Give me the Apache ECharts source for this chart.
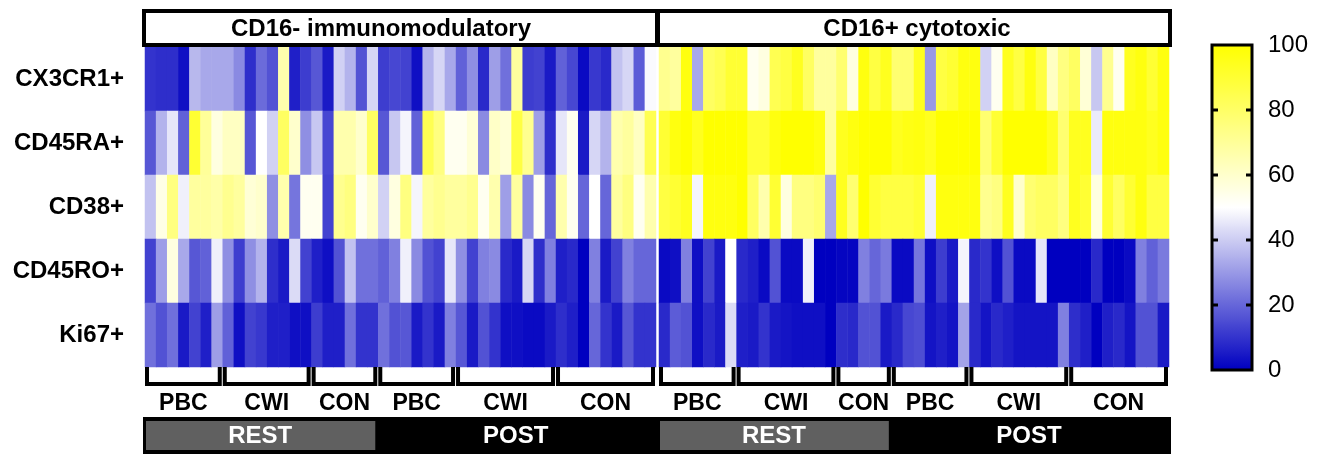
<!DOCTYPE html>
<html>
<head>
<meta charset="utf-8">
<script src="https://cdn.jsdelivr.net/npm/echarts@6/dist/echarts.min.js"></script>
<style>
  html, body { margin: 0; padding: 0; background: #fff; }
  #main { width: 1320px; height: 454px; }
</style>
</head>
<body>
<div id="main"></div>
<script>
// row markers (top to bottom)
var markers = ['CX3CR1+', 'CD45RA+', 'CD38+', 'CD45RO+', 'Ki67+'];

// % positive, one value per subject column (46 columns per panel)
var negCX3CR1 = [10,9,9,3,36,33,33,33,27,9, 21,16,66,6,12,17,5,41,35,16, 42,12,14,13,3,35,42,33,19,28, 8,31,22,69,12,13,5,19,14,2, 11,8,38,42,18,49];
var negCD45RA = [17,35,45,19,90,70,56,62,62,17, 50,41,81,60,28,39,14,66,66,60, 81,17,39,48,19,84,75,53,53,58, 27,61,58,87,72,31,9,45,53,5, 42,35,66,69,62,84];
var negCD38   = [38,55,75,47,69,69,67,72,69,58, 60,28,66,23,53,53,13,72,75,53, 60,41,56,75,48,69,72,69,69,72, 53,66,31,69,27,53,20,66,53,20, 50,20,69,75,53,66];
var negCD45RO = [13,31,56,33,17,19,47,28,12,28, 35,9,5,43,13,6,3,16,38,22, 22,19,25,47,27,16,13,45,28,13, 25,27,8,5,42,9,25,6,8,0, 25,5,13,25,20,20];
var negKi67   = [22,16,22,5,13,6,31,19,3,13, 11,6,6,3,3,12,6,6,22,10, 10,22,16,17,5,10,5,25,17,5, 16,10,3,3,2,2,5,9,6,0, 20,10,5,17,10,10];

var posCX3CR1 = [72,69,97,33,81,84,90,90,53,56, 84,87,94,81,69,69,78,56,97,87, 94,78,78,94,30,87,90,97,97,41, 53,94,87,97,87,62,75,81,58,39, 72,53,94,97,90,97];
var posCD45RA = [90,97,100,94,100,100,100,100,90,90, 97,100,100,100,97,69,94,97,100,100, 100,94,96,97,94,100,100,100,100,78, 90,100,100,100,100,94,78,94,94,46, 97,97,97,97,94,97];
var posCD38   = [87,90,94,48,97,97,97,100,81,66, 90,56,75,75,78,33,94,78,100,90, 87,87,87,90,47,97,97,97,97,72, 75,94,60,78,81,81,75,94,90,56, 90,81,90,97,87,87];
var posCD45RO = [2,3,25,3,13,5,50,8,6,2, 16,2,2,47,0,0,1,1,25,20, 24,2,2,23,3,12,5,48,8,10, 3,16,2,2,45,0,0,0,0,8, 0,0,2,25,19,24];
var posKi67   = [8,18,16,3,8,5,43,6,5,10, 5,4,3,3,3,0,9,8,16,16, 5,8,14,15,4,6,4,32,8,4, 8,6,4,4,4,4,25,9,6,0, 6,8,4,16,16,5];

// column groups [label, firstCol, lastCol]
var negGroups = [['PBC',0,6],['CWI',7,14],['CON',15,20],['PBC',21,27],['CWI',28,36],['CON',37,45]];
var posGroups = [['PBC',0,6],['CWI',7,15],['CON',16,20],['PBC',21,27],['CWI',28,36],['CON',37,45]];
var restEndCol = 20;

var panelTitles = ['CD16- immunomodulatory', 'CD16+ cytotoxic'];
var scaleTicks = [0, 20, 40, 60, 80, 100];

var FONT = '"Liberation Sans", Arial, sans-serif';

function toCells(rows) {
    var out = [];
    for (var r = 0; r < rows.length; r++) {
        for (var c = 0; c < rows[r].length; c++) {
            out.push([c, r, rows[r][c]]);
        }
    }
    return out;
}

var negData = toCells([negCX3CR1, negCD45RA, negCD38, negCD45RO, negKi67]);
var posData = toCells([posCX3CR1, posCD45RA, posCD38, posCD45RO, posKi67]);

var cols = [];
for (var i = 0; i < negCX3CR1.length; i++) cols.push(i);

var myChart = echarts.init(document.getElementById('main'));

var option = {
    animation: false,
    grid: [
        { left: 145, top: 47, width: 511, height: 320 },
        { left: 659, top: 47, width: 510, height: 320 },
        { left: 1212, top: 45, width: 40, height: 325 }
    ],
    xAxis: [
        { type: 'category', gridIndex: 0, data: cols, show: false },
        { type: 'category', gridIndex: 1, data: cols, show: false },
        { type: 'value', gridIndex: 2, show: false }
    ],
    yAxis: [
        {
            type: 'category', gridIndex: 0, data: markers, inverse: true,
            axisLine: { show: false },
            axisTick: { alignWithLabel: true, length: 9, lineStyle: { color: '#000', width: 3 } },
            axisLabel: { color: '#000', fontSize: 24, fontWeight: 'bold', fontFamily: FONT, margin: 21 }
        },
        { type: 'category', gridIndex: 1, data: markers, inverse: true, show: false },
        {
            type: 'value', gridIndex: 2, min: 0, max: 100, interval: 20, position: 'right',
            axisLine: { show: false },
            splitLine: { show: false },
            axisTick: { show: false },
            axisLabel: { color: '#000', fontSize: 24, fontFamily: FONT, margin: 16,
                formatter: function (v) { return scaleTicks.indexOf(v) >= 0 ? String(v) : ''; } }
        }
    ],
    visualMap: {
        type: 'continuous',
        min: 0, max: 100,
        seriesIndex: [0, 1],
        calculable: false,
        left: 1212, top: 45,
        itemWidth: 40, itemHeight: 325,
        padding: 0,
        inRange: { color: ['#0000c0', '#ffffff', '#ffff00'] }
    },
    series: [
        { type: 'heatmap', xAxisIndex: 0, yAxisIndex: 0, data: negData },
        { type: 'heatmap', xAxisIndex: 1, yAxisIndex: 1, data: posData }
    ]
};

myChart.setOption(option);

// frame, headers, brackets and REST/POST bars placed from the axes
function colEdge(axis, col) {
    var c0 = myChart.convertToPixel({ xAxisIndex: axis }, 0);
    var c1 = myChart.convertToPixel({ xAxisIndex: axis }, 1);
    var w = c1 - c0;
    return c0 - w / 2 + col * w;
}

function txt(s, x, y, size, color, weight) {
    return {
        type: 'text', z: 110,
        style: { text: s, x: x, y: y, fill: color, font: weight + ' ' + size + 'px ' + FONT,
            textAlign: 'center', align: 'center', textVerticalAlign: 'middle', verticalAlign: 'middle' }
    };
}

var g = [];
var top = 47, bottom = 367;
var panels = [[0, negGroups], [1, posGroups]];

for (var p = 0; p < panels.length; p++) {
    var ax = panels[p][0], groups = panels[p][1];
    var x0 = colEdge(ax, 0), x1 = colEdge(ax, cols.length);

    // header box
    g.push({ type: 'rect', z: 100, shape: { x: x0 - 1, y: 11, width: x1 - x0 + 2, height: 34 },
        style: { fill: '#fff', stroke: '#000', lineWidth: 4 } });
    g.push(txt(panelTitles[p], p == 0 ? x0 + 236 : (x0 + x1) / 2 + 3, 29, 24, '#000', 'bold'));

    // heatmap frame
    g.push({ type: 'rect', z: 100, shape: { x: x0 - 1, y: top - 2, width: x1 - x0 + 2, height: bottom - top + 2 },
        style: { fill: 'none', stroke: '#000', lineWidth: 4 } });

    // group brackets + labels
    for (var k = 0; k < groups.length; k++) {
        var xs = colEdge(ax, groups[k][1]) + 2;
        var xe = colEdge(ax, groups[k][2] + 1) - 3;
        g.push({ type: 'polyline', z: 100,
            shape: { points: [[xs, bottom], [xs, 384], [xe, 384], [xe, bottom]] },
            style: { fill: 'none', stroke: '#000', lineWidth: 4 } });
        g.push(txt(groups[k][0], (xs + xe) / 2, 404, 23, '#000', 'bold'));
    }

    // REST / POST bar
    var restEnd = colEdge(ax, restEndCol + 1) - 3;
    g.push({ type: 'rect', z: 100, shape: { x: x0 - 2, y: 417, width: x1 - x0 + 4, height: 40 },
        style: { fill: '#000' } });
    g.push({ type: 'rect', z: 101, shape: { x: x0 + 1, y: 421, width: restEnd - x0 - 1, height: 29 },
        style: { fill: '#606060' } });
    g.push(txt('REST', (x0 + restEnd) / 2, 436, 24, '#fff', 'bold'));
    g.push(txt('POST', (restEnd + x1) / 2, 436, 24, '#fff', 'bold'));
}

// colour bar border + inward ticks on both sides
g.push({ type: 'rect', z: 100, shape: { x: 1212, y: 45, width: 40, height: 325 },
    style: { fill: 'none', stroke: '#000', lineWidth: 3 } });
for (var t = 1; t < scaleTicks.length - 1; t++) {
    var ty = myChart.convertToPixel({ yAxisIndex: 2 }, scaleTicks[t]);
    g.push({ type: 'line', z: 100, shape: { x1: 1212, y1: ty, x2: 1218, y2: ty }, style: { stroke: '#000', lineWidth: 3 } });
    g.push({ type: 'line', z: 100, shape: { x1: 1246, y1: ty, x2: 1252, y2: ty }, style: { stroke: '#000', lineWidth: 3 } });
}

myChart.setOption({ graphic: g });
</script>
</body>
</html>
